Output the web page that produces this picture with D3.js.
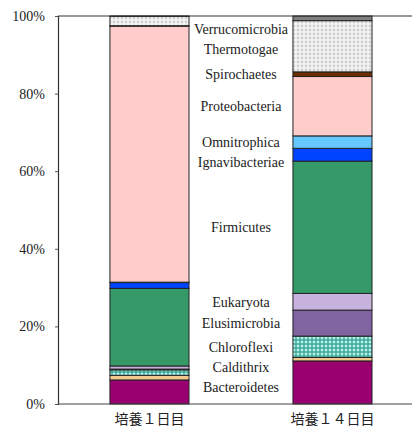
<!DOCTYPE html>
<html><head><meta charset="utf-8">
<script src="https://cdn.jsdelivr.net/npm/d3@7"></script>
<style>body{margin:0;background:#fff}svg{display:block}
.serif{font-family:"Liberation Serif","DejaVu Serif",serif}
</style>
</head><body><svg id="c" width="413" height="427"></svg>
<script>
const categories = ["培養１日目", "培養１４日目"];
const taxa = ["Bacteroidetes","Caldithrix","Chloroflexi","Elusimicrobia","Eukaryota","Firmicutes","Ignavibacteriae","Omnitrophica","Proteobacteria","Spirochaetes","Thermotogae","Verrucomicrobia"];
const day1Values  = [6.2, 1.2, 1.4, 0.2, 0.8, 20.0, 1.5, 0.1, 66.0, 0.1, 2.4, 0.1];
const day14Values = [11.1, 0.9, 5.5, 6.7, 4.3, 34.1, 3.3, 3.2, 15.3, 1.2, 13.2, 1.2];
const yTickValues = [0, 20, 40, 60, 80, 100];
const taxonFills = ["#9b0070","#f3c88c","url(#pChlor)","#8064a2","#c6b2dc","#359a68","#0044ff","#66c8ff","#ffcccc","#6b2e00","url(#pTherm)","#808080"];

const svg = d3.select("#c");
const W = 413, H = 427;
const m = {left: 58, right: 1, top: 16, bottom: 23};

const defs = svg.append("defs");
const p1 = defs.append("pattern").attr("id","pChlor").attr("patternUnits","userSpaceOnUse").attr("width",4).attr("height",4);
p1.append("rect").attr("width",4).attr("height",4).attr("fill","#2f9c88");
p1.append("rect").attr("x",0.6).attr("y",0.6).attr("width",2.8).attr("height",2.8).attr("fill","#b4f2ee");
const p2 = defs.append("pattern").attr("id","pTherm").attr("patternUnits","userSpaceOnUse").attr("width",4).attr("height",4);
p2.append("rect").attr("width",4).attr("height",4).attr("fill","#f6f6f6");
p2.append("circle").attr("cx",2).attr("cy",2).attr("r",1.4).attr("fill","#cfcfcf");

const rows = categories.map((c, i) => {
  const r = {cat: c};
  taxa.forEach((t, j) => r[t] = (i === 0 ? day1Values : day14Values)[j]);
  return r;
});
const series = d3.stack().keys(taxa)(rows);

const x = d3.scaleBand().domain(categories).range([m.left, W - m.right])
  .paddingInner(0.568).paddingOuter(0.2512).align(0.565);
const y = d3.scaleLinear().domain([0, 100]).range([H - m.bottom, m.top]);

const g = svg.append("g");
series.forEach((s, j) => {
  g.selectAll(null).data(s).enter().append("rect")
    .attr("x", d => x(d.data.cat))
    .attr("width", x.bandwidth())
    .attr("y", d => y(d[1]))
    .attr("height", d => y(d[0]) - y(d[1]))
    .attr("fill", taxonFills[j])
    .attr("stroke", "#222")
    .attr("stroke-width", 1);
});

svg.append("line").attr("x1", m.left).attr("x2", W - m.right).attr("y1", y(100)).attr("y2", y(100))
  .attr("stroke", "#333").attr("stroke-width", 1.2);

const ya = svg.append("g").attr("transform", `translate(${m.left},0)`)
  .call(d3.axisLeft(y).tickValues(yTickValues).tickFormat(d => d + "%").tickSize(3).tickPadding(10));
ya.attr("font-family", null).attr("font-size", null);
ya.select(".domain").attr("stroke", "#333").attr("stroke-width", 1.2);
ya.selectAll(".tick line").attr("stroke", "#555");
ya.selectAll("text").attr("class", "serif").style("font-size", "14px").attr("fill", "#222");

const xa = svg.append("g").attr("transform", `translate(0,${y(0)})`)
  .call(d3.axisBottom(x).tickSize(0).tickPadding(10));
xa.attr("font-family", null).attr("font-size", null);
xa.select(".domain").attr("stroke", "#444").attr("stroke-width", 1.2)
  .attr("d", `M${m.left},0H${W - m.right}`);
xa.selectAll("text").style("font-family", "'Noto Sans CJK JP', sans-serif").style("font-size", "14px").attr("fill", "#222");

// labels: centred on the second bar's segments, swept top-down to avoid overlap
const last = series.map(s => s[1]);
let labs = taxa.map((t, j) => ({t, yv: y((last[j][0] + last[j][1]) / 2)}));
labs.sort((a, b) => a.yv - b.yv);
const gap = 20, lo = y(100) + 13, hi = y(0) - 11;
labs.forEach((l, i) => { l.yv = Math.max(l.yv, i ? labs[i - 1].yv + gap : lo); });
for (let i = labs.length - 1; i >= 0; i--) {
  labs[i].yv = Math.min(labs[i].yv, i < labs.length - 1 ? labs[i + 1].yv - gap : hi);
}
const lx = (x(categories[0]) + x.bandwidth() + x(categories[1])) / 2;
svg.append("g").selectAll("text").data(labs).enter().append("text")
  .attr("class", "serif")
  .attr("x", lx).attr("y", d => d.yv).attr("dy", "0.35em")
  .attr("text-anchor", "middle")
  .style("font-size", "14px").attr("fill", "#222")
  .text(d => d.t);
</script></body></html>
